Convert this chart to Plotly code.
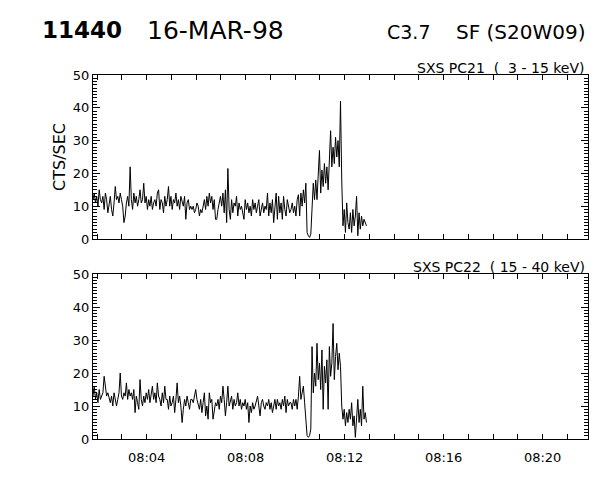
import plotly.graph_objects as go
import pandas as pd

# sample grid: 3 s cadence starting 08:01:50
t_start = '1998-03-16 08:01:50'
cadence_s = 3

# SXS PC21 (3 - 15 keV) counts/s, one row per minute
pc21 = [
    12, 14, 11, 13, 10, 15, 12, 11, 13, 9, 14, 12, 8, 10, 13, 9, 7, 11, 16, 12,
    13, 11, 14, 12, 10, 5, 7, 11, 13, 10, 22, 12, 9, 14, 11, 13, 10, 12, 15, 11,
    12, 17, 11, 13, 9, 12, 10, 13, 9, 11, 12, 10, 14, 15, 9, 12, 11, 8, 13, 10,
    12, 16, 10, 13, 9, 12, 11, 14, 10, 12, 9, 13, 11, 10, 13, 6, 11, 12, 9, 10,
    9, 10, 8, 9, 11, 10, 7, 9, 8, 10, 12, 9, 13, 10, 14, 11, 13, 9, 12, 6,
    6, 9, 11, 13, 10, 14, 8, 15, 5, 21.5, 9, 6, 12, 8, 11, 10, 13, 7, 11, 9,
    10, 8, 6, 12, 9, 11, 8, 10, 7, 12, 9, 11, 8, 10, 12, 7, 9, 11, 8, 10,
    9, 14, 7, 11, 8, 12, 5, 10, 14, 6, 13, 8, 11, 6, 13, 9, 7, 12, 10, 8,
    9, 11, 8, 10, 7, 12, 13.5, 7, 14, 10, 15, 11, 17, 2, 1, 0.5, 1.5, 11, 17, 12,
    18, 12, 20, 27, 14, 21, 16, 23, 17, 22, 15, 24, 33, 22, 28, 23, 31, 25, 30, 22,
    42, 18, 4, 9, 2, 11, 5, 3, 8, 2, 9, 4, 7, 13, 1, 8, 3, 7, 4, 6,
    5, 4,
]

# SXS PC22 (15 - 40 keV) counts/s
pc22 = [
    13, 16, 12, 14, 11, 15, 12, 13, 14, 19, 15, 13, 14, 12, 11, 13, 10, 14, 12, 10,
    12, 14, 20, 13, 12, 14, 13, 17, 12, 15, 13, 14, 12, 15, 8, 13, 11, 9, 18, 12,
    10, 13, 11, 14, 12, 15, 11, 13, 16, 12, 14, 11, 17, 13, 12, 10, 14, 11, 16, 12,
    12, 9, 13, 10, 11, 13, 8, 12, 17, 11, 13, 10, 5, 9, 12, 10, 13, 11, 9, 12,
    12, 11, 13, 15, 12, 10, 9, 12, 8, 11, 14, 7, 10, 6, 14, 11, 12, 6, 9, 11,
    10, 12, 9, 13, 11, 16, 12, 7, 11, 16, 10, 12, 13, 9, 12, 10, 11, 14, 10, 12,
    9, 11, 10, 12, 9, 11, 5, 10, 8, 11, 9, 10, 12, 13, 10, 7, 11, 12, 10, 9,
    11, 10, 12, 9, 11, 8, 10, 12, 9, 12, 10, 11, 9, 12, 10, 13, 8, 12, 10, 11,
    11, 9, 12, 10, 12, 9, 13, 19, 12, 14, 16, 11, 5, 1, 0.5, 1, 3, 28, 14, 20,
    16, 29, 18, 23, 15, 27, 9, 22, 17, 24, 9, 28, 19, 23, 35, 18, 25, 29, 21, 26,
    22, 10, 6, 9, 4, 8, 5, 9, 6, 11, 4, 7, 0.5, 8, 12, 5, 9, 4, 16, 6,
    8, 5,
]

times = pd.date_range(t_start, periods=len(pc21), freq=f'{cadence_s}s')

x_range = ['1998-03-16 08:01:50', '1998-03-16 08:21:50']
y_range = [0, 50]

W, H = 600, 480
L, R, T, B = 93, 12, 75, 41
PW, PH = W - L - R, H - T - B


def px(x):
    return (x - L) / PW


def py(y):
    return (H - B - y) / PH


FONT = 'DejaVu Sans'

fig = go.Figure()
fig.add_trace(go.Scatter(x=times, y=pc21, mode='lines', line=dict(color='black', width=1),
                         xaxis='x', yaxis='y', showlegend=False))
fig.add_trace(go.Scatter(x=times, y=pc22, mode='lines', line=dict(color='black', width=1),
                         xaxis='x2', yaxis='y2', showlegend=False))

xstyle = dict(type='date', range=x_range, showline=True, linecolor='black', linewidth=1,
              mirror='ticks', ticks='inside', ticklen=5, tickcolor='black', tickwidth=1,
              dtick=240000, tick0='1998-03-16 08:00:00', tickformat='%H:%M',
              minor=dict(dtick=60000, ticks='inside', ticklen=5, tickcolor='black'),
              showgrid=False, zeroline=False, automargin=False,
              tickfont=dict(family=FONT, size=13, color='black'))
ystyle = dict(range=y_range, showline=True, linecolor='black', linewidth=1,
              mirror='ticks', ticks='inside', ticklen=7, tickcolor='black', tickwidth=1,
              dtick=10, tick0=0,
              minor=dict(dtick=1, ticks='inside', ticklen=4, tickcolor='black'),
              showgrid=False, zeroline=False, automargin=False,
              tickfont=dict(family=FONT, size=13, color='black'))

top_dom = [py(239), py(75)]
bot_dom = [py(439), py(274)]

fig.update_layout(
    width=W, height=H,
    margin=dict(l=L, r=R, t=T, b=B),
    plot_bgcolor='white', paper_bgcolor='white',
    xaxis=dict(xstyle, anchor='y', showticklabels=False),
    yaxis=dict(ystyle, domain=top_dom, anchor='x',
               title=dict(text='CTS/SEC', font=dict(family=FONT, size=16, color='black'), standoff=3)),
    xaxis2=dict(xstyle, anchor='y2', ticklabelstandoff=6),
    yaxis2=dict(ystyle, domain=bot_dom, anchor='x2'),
)

texts = [
    ('<b>11440</b>', 40, 30, 'left', 23),
    ('16-MAR-98', 145, 30, 'left', 25),
    ('C3.7', 385, 32, 'left', 19),
    ('SF (S20W09)', 588, 32, 'right', 20),
    ('SXS PC21\u00a0\u00a0(\u00a0\u00a03 - 15 keV)', 587, 68, 'right', 14),
    ('SXS PC22\u00a0\u00a0(\u00a015 - 40 keV)', 587, 267, 'right', 14),
]
for txt, x, y, anchor, size in texts:
    fig.add_annotation(text=txt, x=px(x), y=py(y), xref='paper', yref='paper',
                       xanchor=anchor, yanchor='middle', showarrow=False,
                       font=dict(family=FONT, size=size, color='black'))

# page body margin would otherwise offset the figure by 8px
fig.write_html('out.html', config={'displayModeBar': False},
               post_script="document.body.style.margin='0';")
